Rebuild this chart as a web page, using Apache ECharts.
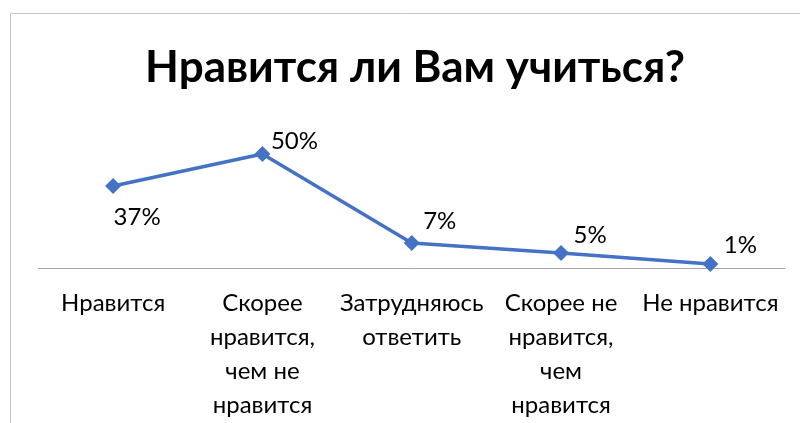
<!DOCTYPE html>
<html>
<head>
<meta charset="utf-8">
<script src="https://cdn.jsdelivr.net/npm/echarts@6/dist/echarts.min.js"></script>
<style>
  html, body { margin: 0; padding: 0; background: #fff; }
  #chart { width: 800px; height: 423px; }
</style>
</head>
<body>
<div id="chart"></div>
<script>
// ответы на вопрос
var categories = [
  "Нравится",
  "Скорее\nнравится,\nчем не\nнравится",
  "Затрудняюсь\nответить",
  "Скорее не\nнравится,\nчем\nнравится",
  "Не нравится"
];
// подписи точек (как на картинке)
var shareLabels = ["37%", "50%", "7%", "5%", "1%"];
// высота точек
var levels = [36, 50, 11, 6.6, 1.8];

var labelOffsets = [[24, 31], [32, -13], [28, -22], [29, -18], [30, -19]];

var myChart = echarts.init(document.getElementById("chart"));
var font = "Lato, 'Open Sans', sans-serif";

var option = {
  animation: false,
  backgroundColor: "#fff",
  graphic: [
    {
      type: "rect",
      shape: { x: 10.5, y: 13.5, width: 800, height: 420 },
      style: { fill: "none", stroke: "#c4c4c4", lineWidth: 1 },
      silent: true
    }
  ],
  title: {
    text: "Нравится ли Вам учиться?",
    left: 410,
    top: 41,
    textAlign: "center",
    textStyle: { fontFamily: font, fontSize: 44, fontWeight: "bold", color: "#000" }
  },
  grid: { left: 38.5, right: 15, top: 131.2, bottom: 155 },
  xAxis: {
    type: "category",
    data: categories,
    boundaryGap: true,
    axisLine: { show: true, lineStyle: { color: "#a6a6a6", width: 1 } },
    axisTick: { show: false },
    axisLabel: {
      interval: 0,
      margin: 18,
      color: "#000",
      fontFamily: font,
      fontSize: 24,
      lineHeight: 34,
      align: "center"
    }
  },
  yAxis: {
    type: "value",
    min: 0,
    max: 60,
    show: false,
    splitLine: { show: false }
  },
  series: [
    {
      type: "line",
      data: levels.map(function (v, i) {
        return {
          value: v,
          label: { offset: labelOffsets[i] }
        };
      }),
      symbol: "diamond",
      symbolSize: 16,
      lineStyle: { color: "#4472C4", width: 3.5 },
      itemStyle: { color: "#4472C4" },
      label: {
        show: true,
        position: "inside",
        color: "#000",
        fontFamily: font,
        fontSize: 24,
        formatter: function (p) {
          return shareLabels[p.dataIndex];
        }
      }
    }
  ]
};
myChart.setOption(option);
</script>
</body>
</html>
